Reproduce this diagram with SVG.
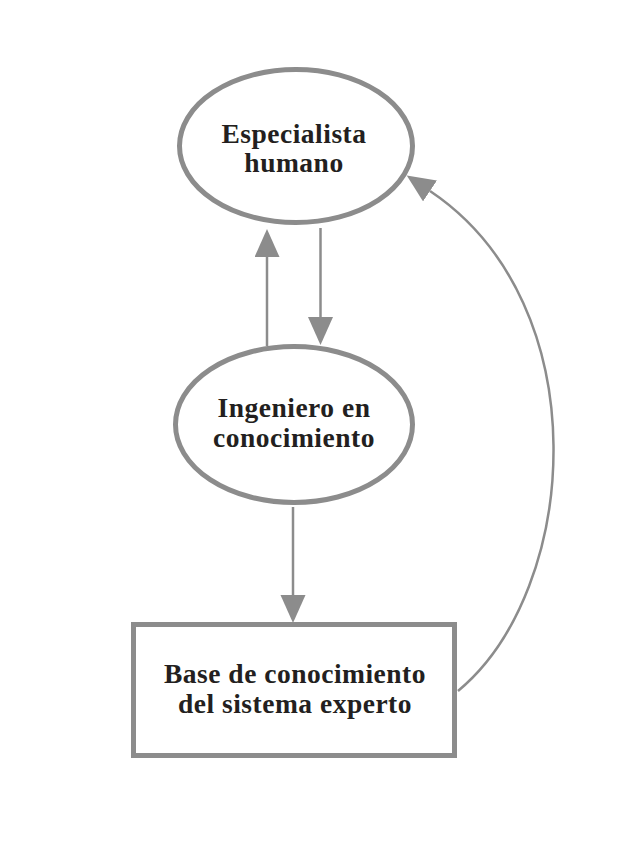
<svg xmlns="http://www.w3.org/2000/svg" width="636" height="844" viewBox="0 0 636 844">
<style>
.node{fill:#fff;stroke:#8c8c8c;stroke-width:5}
.lbl{font-family:"Liberation Serif","Times New Roman",serif;font-weight:bold;font-size:27.5px;letter-spacing:0.5px;fill:#231f20;text-anchor:middle}
.edge{fill:none;stroke:#8c8c8c;stroke-width:2.5}
</style>
<defs>
<marker id="ah" markerUnits="userSpaceOnUse" markerWidth="30" markerHeight="26" refX="0" refY="12.5" orient="auto" viewBox="0 0 30 26">
<path d="M0,0 L28,12.5 L0,25 z" fill="#8c8c8c"/>
</marker>
</defs>
<rect width="636" height="844" fill="#fff"/>
<g id="especialista">
<ellipse class="node" cx="296" cy="146" rx="116.5" ry="76.5"/>
<text class="lbl" x="294" y="143">Especialista</text>
<text class="lbl" x="294" y="172">humano</text>
</g>
<g id="ingeniero">
<ellipse class="node" cx="294" cy="424.5" rx="118.5" ry="78"/>
<text class="lbl" x="294" y="417">Ingeniero en</text>
<text class="lbl" x="294" y="447">conocimiento</text>
</g>
<g id="base">
<rect class="node" x="133.5" y="624.5" width="321" height="131"/>
<text class="lbl" x="295" y="683">Base de conocimiento</text>
<text class="lbl" x="295" y="713">del sistema experto</text>
</g>
<g id="connectors">
<line class="edge" x1="267" y1="346" x2="267" y2="257" marker-end="url(#ah)"/>
<line class="edge" x1="320.5" y1="228" x2="320.5" y2="317" marker-end="url(#ah)"/>
<line class="edge" x1="293" y1="507" x2="293" y2="595" marker-end="url(#ah)"/>
<path class="edge" stroke-width="2" d="M458,691 C580,590 600,305 430,191" marker-end="url(#ah)"/>
</g>
</svg>
